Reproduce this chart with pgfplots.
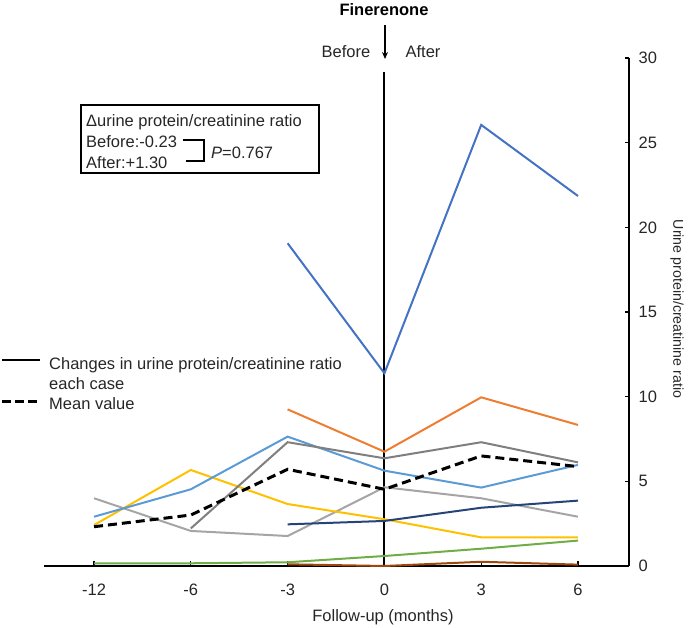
\documentclass[border=0pt]{standalone}
\usepackage{fontspec}
\setmainfont{Liberation Sans}
\usepackage{pgfplots}
\pgfplotsset{compat=1.18}
\usetikzlibrary{arrows.meta}
\definecolor{cBlue}{HTML}{4472C4}
\definecolor{cOrange}{HTML}{ED7D31}
\definecolor{cGray}{HTML}{A5A5A5}
\definecolor{cYellow}{HTML}{FFC000}
\definecolor{cLBlue}{HTML}{5B9BD5}
\definecolor{cGreen}{HTML}{70AD47}
\definecolor{cDBlue}{HTML}{264478}
\definecolor{cBrown}{HTML}{9E480E}
\definecolor{cDGray}{HTML}{7F7F7F}
\definecolor{cText}{HTML}{262626}
\begin{document}
\fontsize{16.5}{19.5}\selectfont
\begin{tikzpicture}[x=1pt,y=1pt]
\path[use as bounding box] (0,0) rectangle (688,628);
\begin{axis}[at={(44pt,62pt)}, anchor=south west, scale only axis,
  width=585pt, height=508pt,
  xmin=-0.517, xmax=5.527, ymin=0, ymax=30,
  axis x line*=bottom, axis y line*=right,
  axis line style={line width=2pt, black},
  xtick={0,...,5}, xticklabels={-12,-6,-3,0,3,6},
  ytick={0,5,...,30},
  tick align=inside, major tick length=4.5pt,
  tick style={line width=1.2pt, black},
  /pgf/number format/assume math mode=true,
  ticklabel style={font=\fontsize{16.5}{19.5}\selectfont, text=cText},
  xticklabel style={yshift=-12pt},
  yticklabel style={xshift=4pt},
  clip=false,
  every axis plot/.append style={line width=2pt},
]
\addplot[black, line width=2pt] coordinates {(3,0) (3,29.17)};
\addplot[cGreen] coordinates {(0,0.16)(1,0.16)(2,0.22)(3,0.59)(4,1.02)(5,1.50)};
\addplot[cBrown] coordinates {(2,0.1)(3,0.0)(4,0.25)(5,0.08)};
\addplot[cGray] coordinates {(0,4.0)(1,2.07)(2,1.77)(3,4.65)(4,4.0)(5,2.91)};
\addplot[cYellow] coordinates {(0,2.42)(1,5.67)(2,3.66)(3,2.76)(4,1.69)(5,1.69)};
\addplot[cDBlue] coordinates {(2,2.46)(3,2.66)(4,3.44)(5,3.86)};
\addplot[cLBlue] coordinates {(0,2.91)(1,4.53)(2,7.64)(3,5.63)(4,4.63)(5,5.97)};
\addplot[cDGray] coordinates {(1,2.22)(2,7.31)(3,6.36)(4,7.31)(5,6.12)};
\addplot[cOrange] coordinates {(2,9.25)(3,6.75)(4,9.96)(5,8.33)};
\addplot[cBlue] coordinates {(2,19.06)(3,11.38)(4,26.05)(5,21.85)};
\addplot[black, line width=3pt, dash pattern=on 9pt off 5pt] coordinates {(0,2.32)(1,3.01)(2,5.71)(3,4.53)(4,6.50)(5,5.87)};
\end{axis}
\begin{scope}[every node/.style={text=cText}]
% title and arrow
\node[font=\fontsize{16.5}{19.5}\selectfont\bfseries, text=black] at (384,618) {Finerenone};
\node at (346,576) {Before};
\node at (423,576) {After};
\draw[line width=1.2pt, -{Stealth[length=7pt,width=6pt]}] (385,603) -- (385,569);
% axis labels
\node at (383,11) {Follow-up (months)};
\node[rotate=-90, font=\fontsize{14.2}{17}\selectfont] at (677,319) {Urine protein/creatinine ratio};
\end{scope}
% summary box
\draw[line width=1.8pt] (81,523) rectangle (319,455);
\begin{scope}[every node/.style={anchor=west, inner sep=0pt, text height=11.5pt, text depth=3.5pt, text=cText}]
\node at (86,505) {Δurine protein/creatinine ratio};
\node at (86,484) {Before:-0.23};
\node at (86,463) {After:+1.30};
\node at (211,473) {\textit{P}=0.767};
\node at (49,262) {Changes in urine protein/creatinine ratio};
\node at (49,242) {each case};
\node at (49,222) {Mean value};
\end{scope}
\draw[line width=1.8pt] (183,488) -- (204,488) -- (204,467.3) -- (186,467.3);
\draw[line width=1.8pt] (2,268) -- (40,268);
\draw[line width=3pt, dash pattern=on 9pt off 4pt] (2,226) -- (40,226);
\end{tikzpicture}
\end{document}
